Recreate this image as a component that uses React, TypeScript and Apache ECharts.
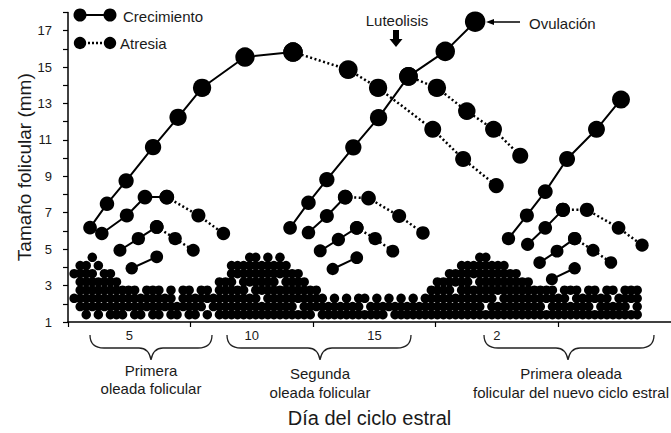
import React, { useEffect, useRef } from 'react';
import * as echarts from 'echarts';

// ---------- axis ticks / labels ----------
const dayTickValues = [2.5, 7.5, 12.5, 17.5, 22.5];
const dayLabelValues = [5, 10, 15, 20];
const dayLabelTexts = ['5', '10', '15', '2'];

// ---------- follicle chains [day, size mm] ----------
// First wave
const w1DomGrowth = [[3.40, 6.18], [4.09, 7.49], [4.87, 8.75], [5.97, 10.60], [6.99, 12.24], [7.97, 13.86], [9.72, 15.55], [11.68, 15.82]];
const w1DomAtresia = [[11.68, 15.82], [13.93, 14.86], [15.15, 13.86], [17.38, 11.58], [18.62, 9.95], [19.97, 8.49]];
const w1Sub2Growth = [[3.88, 5.86], [4.90, 6.85], [5.64, 7.86], [6.53, 7.86]];
const w1Sub2Atresia = [[6.53, 7.86], [7.82, 6.85], [8.84, 5.86]];
const w1Sub3Growth = [[4.62, 4.94], [5.37, 5.58], [6.12, 6.22]];
const w1Sub3Atresia = [[6.12, 6.22], [6.87, 5.58], [7.61, 4.94]];
const w1Sub4Growth = [[5.10, 3.95], [6.12, 4.58]];
// Second wave
const w2DomGrowth = [[11.56, 6.17], [12.31, 7.55], [13.06, 8.82], [14.14, 10.59], [15.17, 12.22], [16.39, 14.49], [17.89, 15.86], [19.11, 17.49]];
const w2Sub1Atresia = [[16.39, 14.49], [17.55, 13.86], [18.77, 12.58], [19.86, 11.58], [20.95, 10.13]];
const w2Sub2Growth = [[12.31, 5.91], [13.06, 6.82], [13.81, 7.86]];
const w2Sub2Atresia = [[13.81, 7.86], [14.76, 7.80], [16.01, 6.82], [16.98, 5.89]];
const w2Sub3Growth = [[12.79, 4.91], [13.53, 5.53], [14.28, 6.17]];
const w2Sub3Atresia = [[14.28, 6.17], [15.03, 5.58], [15.75, 4.89]];
const w2Sub4Growth = [[13.30, 3.91], [14.28, 4.53]];
// First wave of the new cycle
const w3DomGrowth = [[20.47, 5.58], [21.22, 6.85], [21.97, 8.16], [22.86, 9.95], [24.06, 11.58], [25.06, 13.22]];
const w3Sub2Growth = [[21.25, 5.26], [21.97, 6.17], [22.69, 7.16]];
const w3Sub2Atresia = [[22.69, 7.16], [23.67, 7.16], [24.96, 6.17], [25.92, 5.22]];
const w3Sub3Growth = [[21.74, 4.26], [22.45, 4.89], [23.17, 5.58]];
const w3Sub3Atresia = [[23.17, 5.58], [23.92, 4.94], [24.65, 4.27]];
const w3Sub4Growth = [[22.24, 3.35], [23.17, 3.95]];

const growthChains = [w1DomGrowth, w1Sub2Growth, w1Sub3Growth, w1Sub4Growth, w2DomGrowth, w2Sub2Growth, w2Sub3Growth, w2Sub4Growth, w3DomGrowth, w3Sub2Growth, w3Sub3Growth, w3Sub4Growth];
const atresiaChains = [w1DomAtresia, w1Sub2Atresia, w1Sub3Atresia, w2Sub1Atresia, w2Sub2Atresia, w2Sub3Atresia, w3Sub2Atresia, w3Sub3Atresia];

// ---------- small follicle pool (read column by column) ----------
const pileRowValues = [4.55, 4.1, 3.65, 3.2, 2.75, 2.3, 1.85, 1.4];
const pileStartDay = 2.75;
const pileStepDay = 0.247;
const pileColumns = [
  [2, 5], [1, 2, 3, 4, 5, 6], [1, 2, 3, 4, 5, 6, 7], [0, 2, 3, 4, 5, 6], [1, 3, 4, 5, 6, 7],
  [2, 3, 4, 5, 6], [2, 3, 4, 5, 6, 7], [3, 4, 5, 6, 7], [4, 5, 6, 7], [4, 5, 6],
  [4, 5, 6, 7], [5, 6, 7], [4, 5, 6], [4, 5, 6, 7], [4, 5, 6, 7],
  [5, 6], [4, 5, 6, 7], [6, 7], [4, 5, 6], [4, 5, 6, 7],
  [5, 6, 7], [4, 5, 6], [4, 5, 7], [5, 6], [3, 4, 5, 6, 7],
  [3, 4, 5, 6, 7], [1, 2, 3, 4, 5, 6, 7], [1, 2, 4, 5, 6, 7], [1, 2, 3, 4, 5, 6, 7], [0, 1, 2, 3, 5, 6, 7],
  [0, 1, 2, 3, 4, 5, 6, 7], [1, 2, 3, 4, 6, 7], [0, 1, 2, 3, 4, 5, 6, 7], [1, 2, 3, 4, 5, 6, 7], [0, 1, 2, 4, 5, 6, 7],
  [1, 2, 3, 4, 5, 6, 7], [2, 3, 4, 5, 6, 7], [2, 3, 4, 5, 7], [3, 4, 5, 6, 7], [4, 5, 6, 7],
  [4, 5, 6], [5, 6, 7], [6, 7], [5, 6, 7], [6, 7],
  [5, 6, 7], [6, 7], [5, 6, 7], [5, 7], [6, 7],
  [5, 6, 7], [6, 7], [5, 6], [6, 7], [5, 6, 7],
  [6, 7], [5, 6, 7], [6, 7], [5, 6, 7], [4, 5, 6, 7],
  [3, 4, 5, 6, 7], [3, 4, 5, 6, 7], [2, 3, 4, 5, 6, 7], [2, 3, 5, 6, 7], [1, 2, 3, 4, 5, 6, 7],
  [1, 2, 3, 4, 5, 6, 7], [1, 2, 4, 5, 6, 7], [0, 1, 2, 3, 4, 5, 6, 7], [0, 1, 2, 3, 4, 5, 7], [1, 2, 3, 4, 5, 6, 7],
  [1, 2, 3, 4, 6, 7], [1, 2, 3, 4, 5, 6, 7], [2, 3, 4, 5, 6, 7], [2, 3, 4, 5, 6, 7], [3, 4, 5, 6, 7],
  [3, 4, 5, 6, 7], [4, 5, 6, 7], [4, 5, 6, 7], [4, 5, 7], [4, 5, 6, 7],
  [5, 6, 7], [4, 5, 6, 7], [4, 6, 7], [4, 5, 6, 7], [5, 6, 7],
  [4, 5, 6, 7], [4, 5, 7], [5, 6, 7], [4, 5, 6, 7], [4, 6, 7],
  [5, 6, 7], [4, 5, 6, 7], [4, 5, 7], [4, 5, 6, 7],
];

// ---------- texts ----------
const legendGrowth = 'Crecimiento';
const legendAtresia = 'Atresia';
const noteLuteolysis = 'Luteolisis';
const noteOvulation = 'Ovulación';
const xTitle = 'Día del ciclo estral';
const yTitle = 'Tamaño folicular (mm)';
const waveLabels = ['Primera\noleada folicular', 'Segunda\noleada folicular', 'Primera oleada\nfolicular del nuevo ciclo estral'];

const FONT = '"Liberation Sans", Arial, Helvetica, sans-serif';
const TXT = '#1a1a1a';

function bracePath(x1: number, tip: number, x2: number) {
  const yt = 335, ym = 348, yb = 360;
  return `M${x1} ${yt} Q${x1} ${ym} ${x1 + 14} ${ym} L${tip - 12} ${ym} Q${tip - 2} ${ym} ${tip} ${yb} Q${tip + 2} ${ym} ${tip + 12} ${ym} L${x2 - 14} ${ym} Q${x2} ${ym} ${x2} ${yt}`;
}
echarts.graphic.registerShape('brace1', echarts.graphic.extendPath(bracePath(90, 151, 212), {}));
echarts.graphic.registerShape('brace2', echarts.graphic.extendPath(bracePath(227, 320, 411), {}));
echarts.graphic.registerShape('brace3', echarts.graphic.extendPath(bracePath(484, 568, 654), {}));

export default function App() {
  const ref = useRef<HTMLDivElement>(null);
  useEffect(() => {
    if (!ref.current) return;
    const chart = echarts.init(ref.current, undefined, { renderer: 'svg' });

    const pilePoints: number[][] = [];
    pileColumns.forEach((rows, i) => {
      rows.forEach((r) => pilePoints.push([pileStartDay + i * pileStepDay, pileRowValues[r]]));
    });

    const sizeFn = (v: number[]) => 10 + 0.6 * v[1];
    const series: any[] = [
      { type: 'scatter', data: pilePoints, symbol: 'circle', symbolSize: 9.5, itemStyle: { color: '#000', opacity: 1 }, silent: true, z: 1 },
    ];
    atresiaChains.forEach((d) => series.push({
      type: 'line', data: d, symbol: 'circle', symbolSize: sizeFn, silent: true, z: 2,
      lineStyle: { color: '#000', width: 2.5, type: [2, 2.5] }, itemStyle: { color: '#000', opacity: 1 },
    }));
    growthChains.forEach((d) => series.push({
      type: 'line', data: d, symbol: 'circle', symbolSize: sizeFn, silent: true, z: 3,
      lineStyle: { color: '#000', width: 2 }, itemStyle: { color: '#000', opacity: 1 },
    }));

    const textStyle = (text: string, size: number, align = 'left') => ({
      text, fontSize: size, fontFamily: FONT, fill: TXT, align, verticalAlign: 'middle',
    });

    chart.setOption({
      animation: false,
      backgroundColor: '#fff',
      grid: { left: 68, right: 0, top: 12.4, bottom: 109, containLabel: false },
      xAxis: {
        type: 'value', min: 2.5, max: 27.1,
        name: xTitle, nameLocation: 'middle', nameGap: 86, nameMoveOverlap: false,
        nameTextStyle: { fontSize: 20, fontFamily: FONT, color: TXT },
        axisLine: { show: true, lineStyle: { color: '#000', width: 1.5 } },
        axisTick: { show: true, customValues: dayTickValues, length: 5, lineStyle: { color: '#000', width: 1.2 } },
        axisLabel: {
          customValues: dayLabelValues, margin: 7, fontSize: 13, fontFamily: FONT, color: TXT,
          formatter: (v: number) => dayLabelTexts[dayLabelValues.indexOf(v)] ?? '',
        },
        splitLine: { show: false },
      },
      yAxis: {
        type: 'value', min: 1, max: 18, interval: 1,
        name: yTitle, nameLocation: 'middle', nameGap: 34, nameMoveOverlap: false,
        nameTextStyle: { fontSize: 19, fontFamily: FONT, color: TXT },
        axisLine: { show: true, lineStyle: { color: '#000', width: 1.5 } },
        axisTick: { show: true, length: 5, lineStyle: { color: '#000', width: 1.2 } },
        axisLabel: {
          margin: 16, fontSize: 13, fontFamily: FONT, color: TXT,
          formatter: (v: number) => (Math.round(v) % 2 === 1 ? String(v) : ''),
        },
        splitLine: { show: false },
      },
      graphic: [
        // legend
        { type: 'line', shape: { x1: 80, y1: 15, x2: 110, y2: 15 }, style: { stroke: '#000', lineWidth: 2 } },
        { type: 'circle', shape: { cx: 80, cy: 15, r: 6.5 }, style: { fill: '#000' } },
        { type: 'circle', shape: { cx: 110, cy: 15, r: 6.5 }, style: { fill: '#000' } },
        { type: 'text', x: 123, y: 16, style: textStyle(legendGrowth, 15) },
        { type: 'line', shape: { x1: 80, y1: 43, x2: 110, y2: 43 }, style: { stroke: '#000', lineWidth: 2.5, lineDash: [2, 2] } },
        { type: 'circle', shape: { cx: 80, cy: 43, r: 6.2 }, style: { fill: '#000' } },
        { type: 'circle', shape: { cx: 110, cy: 43, r: 6.2 }, style: { fill: '#000' } },
        { type: 'text', x: 120, y: 43, style: textStyle(legendAtresia, 15) },
        // luteolysis
        { type: 'text', x: 397, y: 20, style: textStyle(noteLuteolysis, 15, 'center') },
        { type: 'polygon', shape: { points: [[393, 30], [399, 30], [399, 39], [402.5, 39], [396, 47], [389.5, 39], [393, 39]] }, style: { fill: '#000' } },
        // ovulation
        { type: 'line', shape: { x1: 492, y1: 22, x2: 520, y2: 22 }, style: { stroke: '#000', lineWidth: 1.5 } },
        { type: 'polygon', shape: { points: [[486, 22], [494, 19], [494, 25]] }, style: { fill: '#000' } },
        { type: 'text', x: 529, y: 23, style: textStyle(noteOvulation, 15) },
        // braces
        { type: 'brace1', x: 0, y: 0, style: { stroke: '#222', fill: 'none', lineWidth: 1.3 } },
        { type: 'brace2', x: 0, y: 0, style: { stroke: '#222', fill: 'none', lineWidth: 1.3 } },
        { type: 'brace3', x: 0, y: 0, style: { stroke: '#222', fill: 'none', lineWidth: 1.3 } },
        { type: 'text', x: 151, y: 379, style: { ...textStyle(waveLabels[0], 15, 'center'), lineHeight: 18 } },
        { type: 'text', x: 320, y: 382.5, style: { ...textStyle(waveLabels[1], 15, 'center'), lineHeight: 19 } },
        { type: 'text', x: 571, y: 382.5, style: { ...textStyle(waveLabels[2], 15, 'center'), lineHeight: 19 } },
      ],
      series,
    });
    return () => chart.dispose();
  }, []);
  return <div ref={ref} style={{ position: 'fixed', left: 0, top: 0, width: 671, height: 433, background: '#fff' }} />;
}
